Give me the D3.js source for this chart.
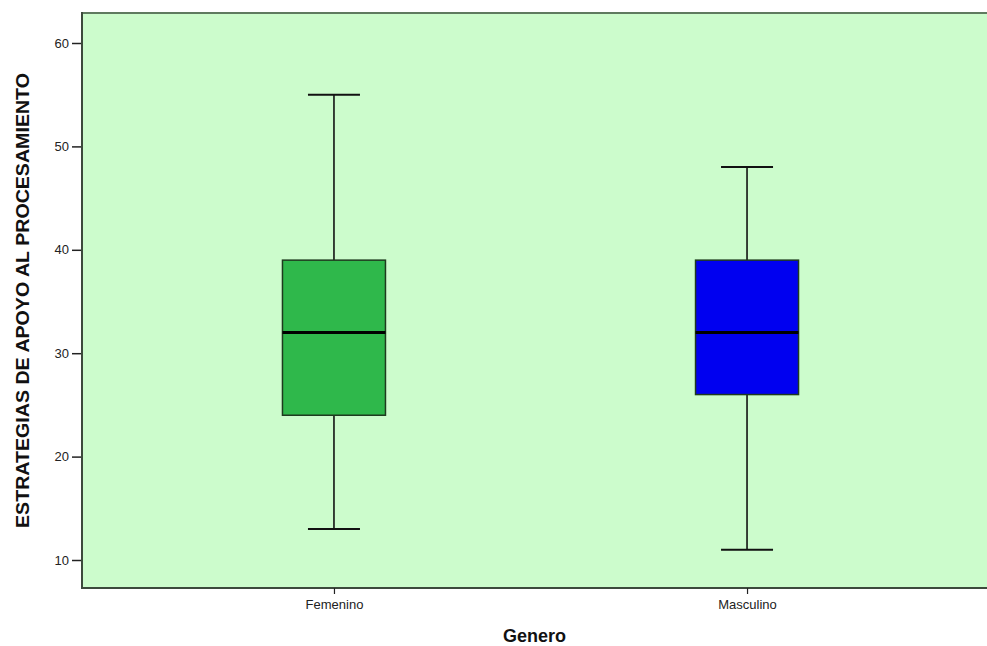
<!DOCTYPE html>
<html>
<head>
<meta charset="utf-8">
<script src="https://cdn.jsdelivr.net/npm/d3@7"></script>
<style>
  html, body { margin: 0; padding: 0; background: #ffffff; }
  svg { display: block; }
  text { font-family: Arial, "Liberation Sans", sans-serif; }
</style>
</head>
<body>
<svg id="chart" width="987" height="646"></svg>
<script>
// Boxplot summary per gender group
const categories = ["Femenino", "Masculino"];
const whiskerLow  = [13, 11];
const q1          = [24, 26];
const median      = [32, 32];
const q3          = [39, 39];
const whiskerHigh = [55, 48];
const boxColors   = ["#2fb84b", "#0000f0"];
const yTicks      = [10, 20, 30, 40, 50, 60];

const svg = d3.select("#chart");
const plot = { left: 82, top: 13, right: 999, bottom: 588 };

const y = d3.scaleLinear().domain([10, 60]).range([560, 43]);
const x = d3.scalePoint().domain(categories).range([plot.left, plot.right]).padding(0.61);

const boxW = 103, capW = 52;

// plot background
svg.append("rect")
  .attr("x", plot.left).attr("y", plot.top)
  .attr("width", plot.right - plot.left).attr("height", plot.bottom - plot.top)
  .attr("fill", "#ccfccc");

// frame lines
svg.append("line").attr("x1", plot.left).attr("x2", plot.right)
  .attr("y1", plot.top).attr("y2", plot.top)
  .attr("stroke", "#5f7a5f").attr("stroke-width", 2);
svg.append("line").attr("x1", plot.left).attr("x2", plot.right)
  .attr("y1", plot.bottom).attr("y2", plot.bottom)
  .attr("stroke", "#3c4a3c").attr("stroke-width", 2);

// y axis
const yAxis = svg.append("g")
  .attr("transform", `translate(${plot.left},0)`)
  .call(d3.axisLeft(y).tickValues(yTicks).tickSize(10).tickPadding(3).tickFormat(d3.format("d")));
yAxis.select(".domain").remove();
yAxis.selectAll(".tick line").attr("stroke", "#222").attr("stroke-width", 1.5);
yAxis.selectAll(".tick text").attr("fill", "#222").style("font-size", "13px");
svg.append("line").attr("x1", plot.left).attr("x2", plot.left)
  .attr("y1", plot.top - 1).attr("y2", plot.bottom + 1)
  .attr("stroke", "#3c4a3c").attr("stroke-width", 2);

// x axis
const xAxis = svg.append("g")
  .attr("transform", `translate(0,${plot.bottom})`)
  .call(d3.axisBottom(x).tickSize(6).tickPadding(6));
xAxis.select(".domain").remove();
xAxis.selectAll(".tick line").attr("stroke", "#222").attr("stroke-width", 1.2);
xAxis.selectAll(".tick text").attr("fill", "#222").style("font-size", "13px");

// boxes
const groups = svg.append("g").selectAll("g")
  .data(categories.map((c, i) => ({ c, i })))
  .join("g");

groups.append("line")
  .attr("x1", d => x(d.c)).attr("x2", d => x(d.c))
  .attr("y1", d => y(whiskerHigh[d.i])).attr("y2", d => y(q3[d.i]))
  .attr("stroke", "#111").attr("stroke-width", 1.6);
groups.append("line")
  .attr("x1", d => x(d.c)).attr("x2", d => x(d.c))
  .attr("y1", d => y(q1[d.i])).attr("y2", d => y(whiskerLow[d.i]))
  .attr("stroke", "#111").attr("stroke-width", 1.6);
groups.append("line")
  .attr("x1", d => x(d.c) - capW / 2).attr("x2", d => x(d.c) + capW / 2)
  .attr("y1", d => y(whiskerHigh[d.i])).attr("y2", d => y(whiskerHigh[d.i]))
  .attr("stroke", "#111").attr("stroke-width", 2);
groups.append("line")
  .attr("x1", d => x(d.c) - capW / 2).attr("x2", d => x(d.c) + capW / 2)
  .attr("y1", d => y(whiskerLow[d.i])).attr("y2", d => y(whiskerLow[d.i]))
  .attr("stroke", "#111").attr("stroke-width", 2);
groups.append("rect")
  .attr("x", d => x(d.c) - boxW / 2).attr("width", boxW)
  .attr("y", d => y(q3[d.i])).attr("height", d => y(q1[d.i]) - y(q3[d.i]))
  .attr("fill", d => boxColors[d.i])
  .attr("stroke", "#1e3a1e").attr("stroke-width", 1.5);
groups.append("line")
  .attr("x1", d => x(d.c) - boxW / 2).attr("x2", d => x(d.c) + boxW / 2)
  .attr("y1", d => y(median[d.i])).attr("y2", d => y(median[d.i]))
  .attr("stroke", "#000").attr("stroke-width", 3);

// axis titles
svg.append("text")
  .attr("x", (plot.left + 987) / 2).attr("y", 642)
  .attr("text-anchor", "middle")
  .style("font-size", "18px").style("font-weight", "bold").attr("fill", "#111")
  .text("Genero");
svg.append("text")
  .attr("transform", `translate(29,${(plot.top + plot.bottom) / 2}) rotate(-90)`)
  .attr("text-anchor", "middle")
  .attr("textLength", 455).attr("lengthAdjust", "spacingAndGlyphs")
  .style("font-size", "19px").style("font-weight", "bold").attr("fill", "#111")
  .text("ESTRATEGIAS DE APOYO AL PROCESAMIENTO");
</script>
</body>
</html>
